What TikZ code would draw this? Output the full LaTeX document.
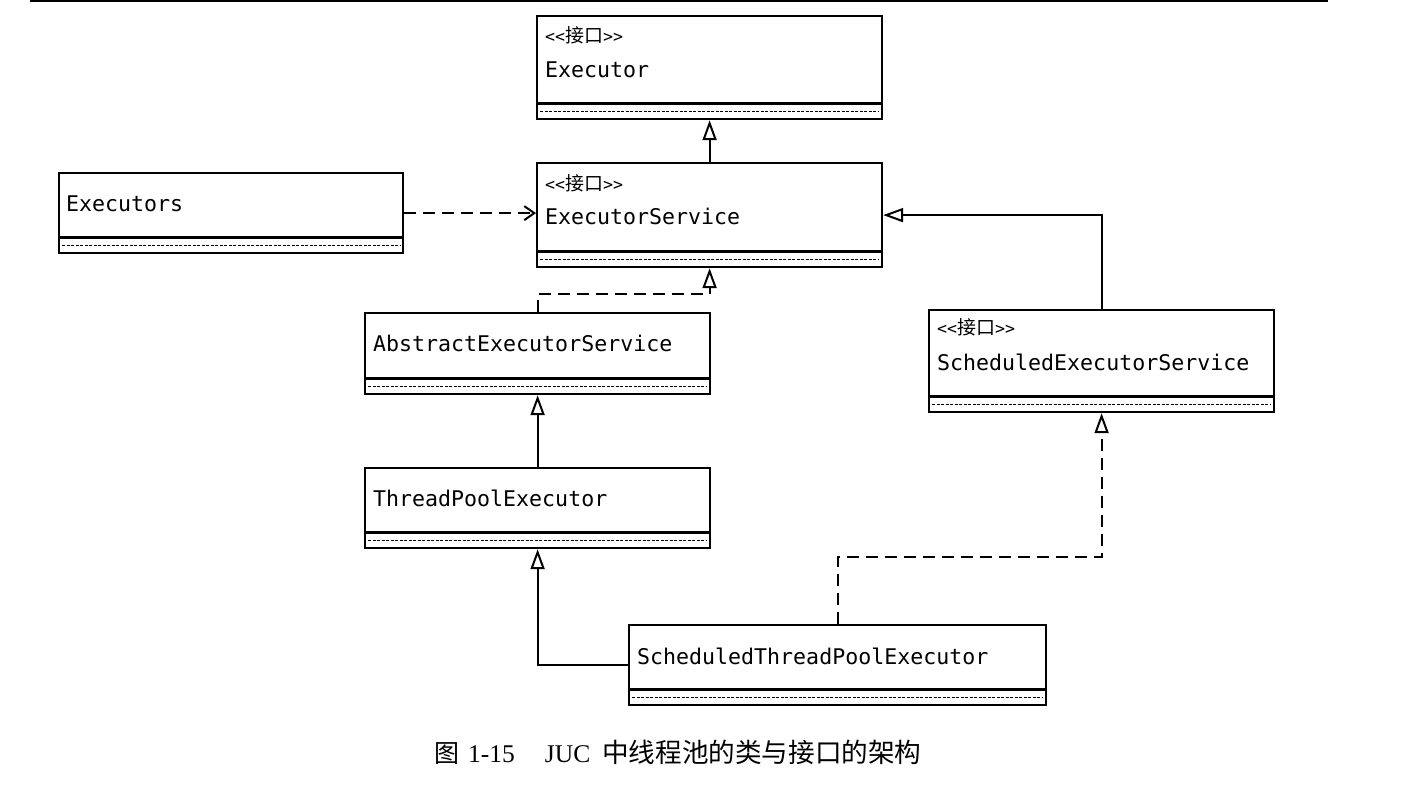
\documentclass[tikz,border=0pt]{standalone}
\usepackage{fontspec}
\setmainfont{Liberation Serif}
\newfontfamily\cjk{Noto Sans CJK SC}
\newfontfamily\boxmono{DejaVu Sans Mono}
\usetikzlibrary{arrows.meta}
\tikzset{
 cls/.style={draw, line width=2.2pt, inner sep=0pt, fill=white},
 divline/.style={line width=3pt},
 dotline/.style={line width=1.2pt, dash pattern=on 3pt off 1.5pt},
 nm/.style={anchor=west, inner sep=0pt, font=\boxmono\fontsize{21.6}{24}\selectfont},
 st/.style={anchor=west, inner sep=0pt, font=\boxmono\fontsize{16.6}{18}\selectfont},
 gen/.style={line width=2pt, -{Triangle[open, length=20pt, width=14pt, line width=2pt]}},
 real/.style={gen, dash pattern=on 12pt off 7pt},
 dep/.style={line width=2pt, dash pattern=on 12pt off 7pt, -{Straight Barb[length=10pt, width=14pt, line width=2pt]}},
}
\newcommand\umlclass[5]{%
 \node[cls, minimum width=#4pt, minimum height=#5pt, anchor=north west] (#1) at (#2,#3) {};
 \draw[divline] ([yshift=17pt]#1.south west) -- ([yshift=17pt]#1.south east);
 \draw[dotline] ([yshift=8.5pt,xshift=4pt]#1.south west) -- ([yshift=8.5pt,xshift=-4pt]#1.south east);
}
\newcommand\stereo{<\kern0pt<{\cjk\fontsize{19}{19}\selectfont 接口}>\kern0pt>}
\begin{document}
\begin{tikzpicture}[x=1pt,y=-1pt]
\useasboundingbox (0,0) rectangle (1428,787);
\draw[line width=2pt] (30,1) -- (1328,1);

\umlclass{E}{536}{15}{345}{103}
\node[st] (Est) at (545,35) {\stereo};
\node[nm] (Enm) at (545,70) {Executor};

\umlclass{ES}{536}{162}{345}{104}
\node[st] (ESst) at (545,183) {\stereo};
\node[nm] (ESnm) at (545,216) {ExecutorService};

\umlclass{EX}{58}{172}{344}{80}
\node[nm] (EXnm) at (66,204) {Executors};

\umlclass{AES}{364}{312}{345}{81}
\node[nm] (AESnm) at (373,343) {AbstractExecutorService};

\umlclass{SES}{928}{309}{345}{102}
\node[st] (SESst) at (937,327) {\stereo};
\node[nm] (SESnm) at (937,362) {ScheduledExecutorService};

\umlclass{TPE}{364}{467}{345}{80}
\node[nm] (TPEnm) at (373,498) {ThreadPoolExecutor};

\umlclass{STPE}{628}{624}{417}{80}
\node[nm] (STPEnm) at (637,656) {ScheduledThreadPoolExecutor};

\draw[gen] (ES.north) -- (E.south);
\draw[dep] (EX.east) -- (EX.east -| ES.west);
\draw[real] (AES.north) -- ++(0,-18) -| (ES.south);
\draw[gen] (SES.north) |- (ES.east);
\draw[gen] (TPE.north) -- (AES.south);
\draw[gen] (STPE.west) -| (TPE.south);
\draw[real] (STPE.north) -- ++(0,-67) -| (SES.south);

\node[anchor=west, inner sep=0pt, font=\fontsize{25.5}{28}\selectfont] (cap) at (434,752)
 {{\cjk\fontsize{25}{28}\selectfont 图}\hspace{9pt}1-15\hspace{30pt}JUC\hspace{12pt}{\cjk\fontsize{26.6}{28}\selectfont 中线程池的类与接口的架构}};
\end{tikzpicture}
\end{document}
